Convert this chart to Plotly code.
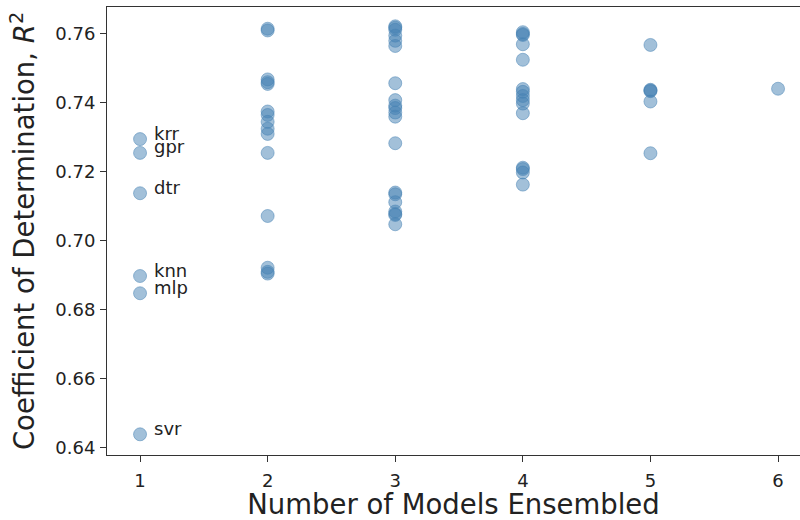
import plotly.graph_objects as go

# R^2 for every ensemble, grouped by number of models averaged
single_models = ["krr", "gpr", "dtr", "knn", "mlp", "svr"]
single_r2 = [0.7295, 0.7255, 0.7138, 0.6898, 0.6848, 0.6439]

r2_two = [0.7615, 0.7610, 0.7468, 0.7460, 0.7455, 0.7375, 0.7365, 0.7345,
          0.7325, 0.7310, 0.7255, 0.7072, 0.6922, 0.6910, 0.6905]
r2_three = [0.7622, 0.7618, 0.7612, 0.7595, 0.7580, 0.7565, 0.7457, 0.7408,
            0.7392, 0.7385, 0.7372, 0.7360, 0.7283, 0.7140, 0.7135, 0.7112,
            0.7085, 0.7078, 0.7075, 0.7048]
r2_four = [0.7605, 0.7600, 0.7597, 0.7570, 0.7525, 0.7440, 0.7432, 0.7420,
           0.7408, 0.7398, 0.7370, 0.7212, 0.7208, 0.7198, 0.7163]
r2_five = [0.7568, 0.7438, 0.7436, 0.7434, 0.7404, 0.7254]
r2_six = [0.7441]

groups = [single_r2, r2_two, r2_three, r2_four, r2_five, r2_six]
xs, ys = [], []
for n, vals in enumerate(groups, start=1):
    xs += [n] * len(vals)
    ys += vals

fig = go.Figure()
fig.add_trace(go.Scatter(
    x=xs, y=ys, mode="markers",
    marker=dict(size=13, color="rgba(70,130,180,0.5)",
                line=dict(width=1, color="rgba(70,130,180,0.5)")),
    showlegend=False, hoverinfo="x+y",
))

# label each single model next to its point
for name, val in zip(single_models, single_r2):
    fig.add_annotation(x=1, y=val, text=name, showarrow=False,
                       xanchor="left", yanchor="middle", xshift=12, yshift=6,
                       font=dict(family="DejaVu Sans", size=18, color="#222"))

axis_common = dict(showline=True, linecolor="#333", linewidth=1,
                   ticks="outside", ticklen=6, tickcolor="#333",
                   showgrid=False, zeroline=False,
                   tickfont=dict(family="DejaVu Sans", size=18, color="#222"))

fig.update_layout(
    width=800, height=520,
    margin=dict(l=107, r=0, t=7, b=65),
    plot_bgcolor="white", paper_bgcolor="white",
    xaxis=dict(range=[0.741, 6.172], tickvals=[1, 2, 3, 4, 5, 6], mirror=True,
               ticklabelstandoff=3,
               title=dict(text="Number of Models Ensembled", standoff=10,
                          font=dict(family="DejaVu Sans", size=27.5, color="#222")),
               **axis_common),
    yaxis=dict(range=[0.6379, 0.7678],
               tickvals=[0.64, 0.66, 0.68, 0.70, 0.72, 0.74, 0.76],
               tickformat=".2f", ticklabelstandoff=1,
               title=dict(text="Coefficient of Determination, <i>R</i><sup>2</sup>",
                          standoff=12,
                          font=dict(family="DejaVu Sans", size=27.5, color="#222")),
               **axis_common),
)

fig.write_html("out.html")
